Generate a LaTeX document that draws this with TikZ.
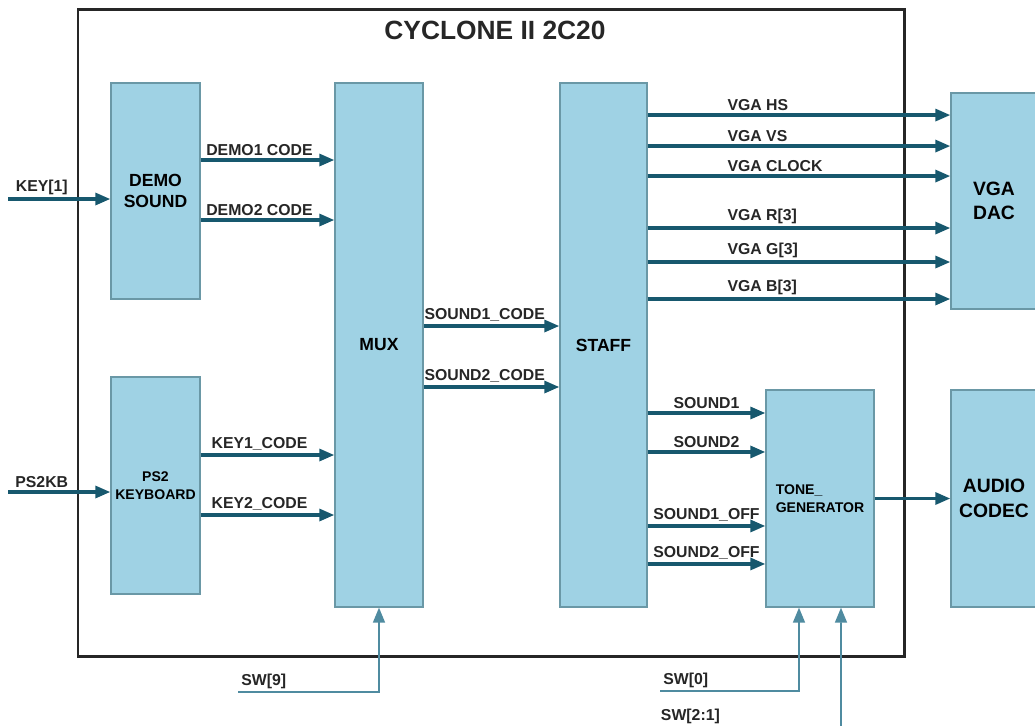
\documentclass[tikz,border=0pt]{standalone}
\usepackage{fontspec}
\setmainfont{Liberation Sans}
\usetikzlibrary{arrows.meta}
\definecolor{boxfill}{HTML}{9FD2E4}
\definecolor{boxline}{HTML}{6A98A6}
\definecolor{sigcol}{HTML}{17586E}
\definecolor{ctlcol}{HTML}{4F8BA0}
\begin{document}
\begin{tikzpicture}[
        x=0.02cm,
        y=-0.02cm,
        font=\bfseries
    ]
    \tikzset{
        blk/.style = {rectangle, draw=boxline, fill=boxfill, line width=0.8pt, align=center, inner sep=0pt, font=\bfseries\fontsize{10}{12}\selectfont},
        sig/.style = {-{Triangle[length=3mm,width=2.4mm]}, line width=1.8pt, draw=sigcol},
        ctl/.style = {-{Triangle[length=3mm,width=2.4mm]}, line width=0.9pt, draw=ctlcol},
        lbl/.style = {font=\bfseries\fontsize{9}{11}\selectfont, inner sep=1.5pt, text=black!85},
    }
    \useasboundingbox (0,0) rectangle (1035,725);
    \draw[line width=1.7pt, draw=black!85] (78,9) rectangle (904,656);
    \node[font=\bfseries\fontsize{15}{18}\selectfont, text=black!85] at (495,30) (title) {CYCLONE II 2C20};
    %
    \node[blk, minimum width=1.78cm, minimum height=4.32cm] at (155.5,191) (demo) {DEMO\\SOUND};
    \node[blk, minimum width=1.78cm, minimum height=4.34cm, font=\bfseries\fontsize{8}{10}\selectfont] at (155.5,485.5) (ps2) {PS2\\KEYBOARD};
    \node[blk, minimum width=1.76cm, minimum height=10.48cm] at (379,345) (mux) {MUX};
    \node[blk, minimum width=1.74cm, minimum height=10.48cm] at (603.5,345) (staff) {STAFF};
    \node[blk, minimum width=2.16cm, minimum height=4.34cm, align=left, font=\bfseries\fontsize{8}{10}\selectfont] at (820,498.5) (tone) {TONE\_\\GENERATOR};
    \node[blk, minimum width=1.72cm, minimum height=4.32cm, font=\bfseries\fontsize{11}{14}\selectfont] at (994,201) (vgadac) {VGA\\DAC};
    \node[blk, minimum width=1.72cm, minimum height=4.34cm, font=\bfseries\fontsize{11}{14}\selectfont] at (994,498.5) (audio) {AUDIO\\CODEC};
    %
    \coordinate (key1in) at (8,199);
    \coordinate (ps2in) at (8,492);
    \draw[sig] (key1in) -- (key1in -| demo.west) node[lbl, pos=0.33, above] {KEY[1]};
    \draw[sig] (ps2in) -- (ps2in -| ps2.west) node[lbl, pos=0.33, above] {PS2KB};
    %
    \draw[sig] ([yshift=0.62cm]demo.east) -- ([yshift=0.62cm]demo.east -| mux.west) node[lbl, pos=0.44, above] {DEMO1 CODE};
    \draw[sig] ([yshift=-0.58cm]demo.east) -- ([yshift=-0.58cm]demo.east -| mux.west) node[lbl, pos=0.44, above] {DEMO2 CODE};
    \draw[sig] ([yshift=0.61cm]ps2.east) -- ([yshift=0.61cm]ps2.east -| mux.west) node[lbl, pos=0.44, above] {KEY1\_CODE};
    \draw[sig] ([yshift=-0.59cm]ps2.east) -- ([yshift=-0.59cm]ps2.east -| mux.west) node[lbl, pos=0.44, above] {KEY2\_CODE};
    %
    \draw[sig] ([yshift=0.38cm]mux.east) -- ([yshift=0.38cm]mux.east -| staff.west) node[lbl, pos=0.45, above] {SOUND1\_CODE};
    \draw[sig] ([yshift=-0.84cm]mux.east) -- ([yshift=-0.84cm]mux.east -| staff.west) node[lbl, pos=0.45, above] {SOUND2\_CODE};
    %
    \draw[sig] ([yshift=4.60cm]staff.east) -- ([yshift=4.60cm]staff.east -| vgadac.west) node[lbl, pos=0.25, anchor=south west] {VGA HS};
    \draw[sig] ([yshift=3.98cm]staff.east) -- ([yshift=3.98cm]staff.east -| vgadac.west) node[lbl, pos=0.25, anchor=south west] {VGA VS};
    \draw[sig] ([yshift=3.38cm]staff.east) -- ([yshift=3.38cm]staff.east -| vgadac.west) node[lbl, pos=0.25, anchor=south west] {VGA CLOCK};
    \draw[sig] ([yshift=2.34cm]staff.east) -- ([yshift=2.34cm]staff.east -| vgadac.west) node[lbl, pos=0.25, anchor=south west] {VGA R[3]};
    \draw[sig] ([yshift=1.66cm]staff.east) -- ([yshift=1.66cm]staff.east -| vgadac.west) node[lbl, pos=0.25, anchor=south west] {VGA G[3]};
    \draw[sig] ([yshift=0.92cm]staff.east) -- ([yshift=0.92cm]staff.east -| vgadac.west) node[lbl, pos=0.25, anchor=south west] {VGA B[3]};
    %
    \draw[sig] ([yshift=-1.36cm]staff.east) -- ([yshift=-1.36cm]staff.east -| tone.west) node[lbl, midway, above] {SOUND1};
    \draw[sig] ([yshift=-2.14cm]staff.east) -- ([yshift=-2.14cm]staff.east -| tone.west) node[lbl, midway, above] {SOUND2};
    \draw[sig] ([yshift=-3.62cm]staff.east) -- ([yshift=-3.62cm]staff.east -| tone.west) node[lbl, midway, above] {SOUND1\_OFF};
    \draw[sig] ([yshift=-4.38cm]staff.east) -- ([yshift=-4.38cm]staff.east -| tone.west) node[lbl, midway, above] {SOUND2\_OFF};
    %
    \draw[sig] (tone.east) -- (audio.west);
    %
    \coordinate (sw9) at (238,692);
    \coordinate (sw0) at (660,691);
    \coordinate (sw21) at (841,727);
    \draw[ctl] (sw9) node[lbl, anchor=south west] {SW[9]} -| (mux.south);
    \draw[ctl] (sw0) node[lbl, anchor=south west] {SW[0]} -| ([xshift=-0.42cm]tone.south);
    \draw[ctl] (sw21) -- ([xshift=0.42cm]tone.south);
    \node[lbl, anchor=west] at (658,716) (sw21lbl) {SW[2:1]};
\end{tikzpicture}
\end{document}
